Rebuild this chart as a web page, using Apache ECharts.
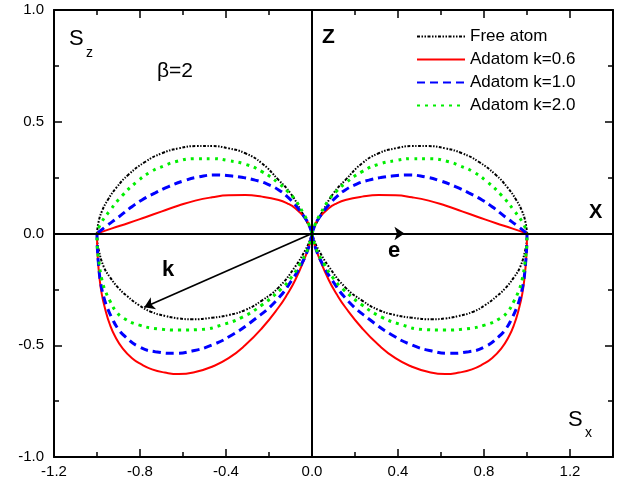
<!DOCTYPE html>
<html>
<head>
<meta charset="utf-8">
<script src="https://cdn.jsdelivr.net/npm/echarts@6/dist/echarts.min.js"></script>
<style>html,body{margin:0;padding:0;background:#fff}#c{width:620px;height:488px}</style>
</head>
<body>
<div id="c"></div>
<script>
// ---------- data ----------
const legendNames = ['Free atom', 'Adatom k=0.6', 'Adatom k=1.0', 'Adatom k=2.0'];
const xTickStep = 0.4;
const yTickStep = 0.5;

// Free atom
const freeUpperR = [[0,0],[0.02,0.045],[0.05,0.1],[0.1,0.18],[0.155,0.239],[0.233,0.314],[0.31,0.359],[0.388,0.381],[0.465,0.391],[0.535,0.391],[0.62,0.381],[0.698,0.359],[0.775,0.321],[0.853,0.264],[0.91,0.205],[0.95,0.15],[0.977,0.1],[0.993,0.05],[1,0]];
const freeLowerR = [[0,0],[0.012,-0.035],[0.031,-0.074],[0.078,-0.148],[0.155,-0.241],[0.233,-0.3],[0.31,-0.342],[0.388,-0.365],[0.465,-0.377],[0.558,-0.384],[0.62,-0.38],[0.682,-0.369],[0.75,-0.35],[0.806,-0.32],[0.86,-0.28],[0.899,-0.245],[0.94,-0.195],[0.969,-0.148],[0.992,-0.074],[0.999,-0.03],[1,0]];
const freeUpperL = [[0,0],[-0.02,0.045],[-0.05,0.1],[-0.1,0.18],[-0.155,0.239],[-0.233,0.314],[-0.31,0.359],[-0.388,0.381],[-0.465,0.391],[-0.535,0.391],[-0.62,0.381],[-0.698,0.359],[-0.775,0.321],[-0.853,0.264],[-0.91,0.205],[-0.95,0.15],[-0.977,0.1],[-0.993,0.05],[-1,0]];
const freeLowerL = [[0,0],[-0.012,-0.035],[-0.031,-0.074],[-0.078,-0.148],[-0.155,-0.241],[-0.233,-0.3],[-0.31,-0.342],[-0.388,-0.365],[-0.465,-0.377],[-0.558,-0.384],[-0.62,-0.38],[-0.682,-0.369],[-0.75,-0.35],[-0.806,-0.32],[-0.86,-0.28],[-0.899,-0.245],[-0.94,-0.195],[-0.969,-0.148],[-0.992,-0.074],[-0.999,-0.03],[-1,0]];

// Adatom k=0.6
const k06UpperR = [[0,0],[0.012,0.035],[0.031,0.068],[0.078,0.113],[0.115,0.135],[0.155,0.15],[0.233,0.165],[0.31,0.172],[0.388,0.171],[0.465,0.162],[0.543,0.147],[0.62,0.125],[0.698,0.099],[0.775,0.073],[0.853,0.047],[0.93,0.023],[1,0]];
const k06LowerR = [[0,0],[0.01,-0.045],[0.031,-0.104],[0.078,-0.208],[0.115,-0.272],[0.155,-0.33],[0.233,-0.424],[0.31,-0.499],[0.388,-0.558],[0.465,-0.596],[0.543,-0.62],[0.62,-0.629],[0.685,-0.622],[0.744,-0.608],[0.795,-0.585],[0.837,-0.558],[0.88,-0.515],[0.915,-0.462],[0.941,-0.405],[0.961,-0.342],[0.978,-0.27],[0.989,-0.193],[0.997,-0.1],[1,0]];
const k06UpperL = [[0,0],[-0.012,0.035],[-0.031,0.068],[-0.078,0.113],[-0.115,0.135],[-0.155,0.15],[-0.233,0.165],[-0.31,0.172],[-0.388,0.171],[-0.465,0.162],[-0.543,0.147],[-0.62,0.125],[-0.698,0.099],[-0.775,0.073],[-0.853,0.047],[-0.93,0.023],[-1,0]];
const k06LowerL = [[0,0],[-0.01,-0.045],[-0.031,-0.104],[-0.078,-0.208],[-0.115,-0.272],[-0.155,-0.33],[-0.233,-0.424],[-0.31,-0.499],[-0.388,-0.558],[-0.465,-0.596],[-0.543,-0.62],[-0.62,-0.629],[-0.685,-0.622],[-0.744,-0.608],[-0.795,-0.585],[-0.837,-0.558],[-0.88,-0.515],[-0.915,-0.462],[-0.941,-0.405],[-0.961,-0.342],[-0.978,-0.27],[-0.989,-0.193],[-0.997,-0.1],[-1,0]];

// Adatom k=1.0
const k10UpperR = [[0,0],[0.015,0.04],[0.04,0.08],[0.078,0.128],[0.115,0.165],[0.155,0.195],[0.21,0.222],[0.264,0.239],[0.318,0.25],[0.372,0.257],[0.45,0.262],[0.527,0.253],[0.589,0.238],[0.667,0.21],[0.729,0.182],[0.791,0.15],[0.845,0.115],[0.899,0.074],[0.961,0.03],[1,0]];
const k10LowerR = [[0,0],[0.015,-0.06],[0.047,-0.133],[0.093,-0.208],[0.171,-0.305],[0.271,-0.387],[0.372,-0.454],[0.465,-0.499],[0.558,-0.526],[0.636,-0.536],[0.729,-0.529],[0.806,-0.506],[0.868,-0.462],[0.903,-0.425],[0.93,-0.379],[0.953,-0.33],[0.969,-0.283],[0.984,-0.215],[0.992,-0.148],[0.998,-0.07],[1,0]];
const k10UpperL = [[0,0],[-0.015,0.04],[-0.04,0.08],[-0.078,0.128],[-0.115,0.165],[-0.155,0.195],[-0.21,0.222],[-0.264,0.239],[-0.318,0.25],[-0.372,0.257],[-0.45,0.262],[-0.527,0.253],[-0.589,0.238],[-0.667,0.21],[-0.729,0.182],[-0.791,0.15],[-0.845,0.115],[-0.899,0.074],[-0.961,0.03],[-1,0]];
const k10LowerL = [[0,0],[-0.015,-0.06],[-0.047,-0.133],[-0.093,-0.208],[-0.171,-0.305],[-0.271,-0.387],[-0.372,-0.454],[-0.465,-0.499],[-0.558,-0.526],[-0.636,-0.536],[-0.729,-0.529],[-0.806,-0.506],[-0.868,-0.462],[-0.903,-0.425],[-0.93,-0.379],[-0.953,-0.33],[-0.969,-0.283],[-0.984,-0.215],[-0.992,-0.148],[-0.998,-0.07],[-1,0]];

// Adatom k=2.0
const k20UpperR = [[0,0],[0.015,0.042],[0.04,0.09],[0.078,0.15],[0.115,0.19],[0.155,0.225],[0.233,0.277],[0.31,0.31],[0.388,0.326],[0.465,0.335],[0.543,0.335],[0.636,0.321],[0.69,0.302],[0.744,0.279],[0.814,0.232],[0.884,0.168],[0.938,0.105],[0.984,0.042],[1,0]];
const k20LowerR = [[0,0],[0.018,-0.065],[0.054,-0.133],[0.095,-0.195],[0.14,-0.245],[0.233,-0.32],[0.326,-0.375],[0.419,-0.409],[0.512,-0.429],[0.62,-0.432],[0.713,-0.427],[0.806,-0.409],[0.876,-0.379],[0.912,-0.348],[0.938,-0.305],[0.96,-0.26],[0.977,-0.208],[0.992,-0.119],[0.999,-0.05],[1,0]];
const k20UpperL = [[0,0],[-0.015,0.042],[-0.04,0.09],[-0.078,0.15],[-0.115,0.19],[-0.155,0.225],[-0.233,0.277],[-0.31,0.31],[-0.388,0.326],[-0.465,0.335],[-0.543,0.335],[-0.636,0.321],[-0.69,0.302],[-0.744,0.279],[-0.814,0.232],[-0.884,0.168],[-0.938,0.105],[-0.984,0.042],[-1,0]];
const k20LowerL = [[0,0],[-0.018,-0.065],[-0.054,-0.133],[-0.095,-0.195],[-0.14,-0.245],[-0.233,-0.32],[-0.326,-0.375],[-0.419,-0.409],[-0.512,-0.429],[-0.62,-0.432],[-0.713,-0.427],[-0.806,-0.409],[-0.876,-0.379],[-0.912,-0.348],[-0.938,-0.305],[-0.96,-0.26],[-0.977,-0.208],[-0.992,-0.119],[-0.999,-0.05],[-1,0]];

// arrows (vector tips, in data units)
const eArrowTip = [0.43, 0];
const kArrowTip = [-0.78, -0.33];

// ---------- chart ----------
const FONT = 'Liberation Sans, Arial, sans-serif';
const styles = [
  {color: '#000000', width: 2, type: [3, 1.5, 1.5, 1.5, 1.5, 1.5]},
  {color: '#ff0000', width: 2, type: 'solid'},
  {color: '#0000ff', width: 3, type: [8, 5]},
  {color: '#00ee00', width: 3, type: [3, 5]}
];
const curveSets = [
  [freeUpperR, freeLowerR, freeUpperL, freeLowerL],
  [k06UpperR, k06LowerR, k06UpperL, k06LowerL],
  [k10UpperR, k10LowerR, k10UpperL, k10LowerL],
  [k20UpperR, k20LowerR, k20UpperL, k20LowerL]
];

const series = [];
curveSets.forEach((set, i) => {
  set.forEach(arr => {
    series.push({
      name: legendNames[i],
      type: 'line',
      data: arr,
      showSymbol: false,
      symbol: 'none',
      smooth: 0.5,
      silent: true,
      z: 3,
      lineStyle: {color: styles[i].color, width: styles[i].width, type: styles[i].type, cap: 'butt'},
      itemStyle: {color: styles[i].color}
    });
  });
});

// zero lines
series.push({
  type: 'line', data: [], silent: true, z: 2,
  markLine: {
    silent: true, symbol: 'none', animation: false,
    label: {show: false},
    lineStyle: {color: '#000', width: 2, type: 'solid'},
    data: [{yAxis: 0}, {xAxis: 0}]
  }
});
// arrows
series.push({
  type: 'line', data: [], silent: true, z: 4,
  markLine: {
    silent: true, symbol: ['none', 'arrow'], symbolSize: 10, animation: false,
    label: {show: false},
    lineStyle: {color: '#000', width: 1.8, type: 'solid'},
    data: [
      [{coord: [0, 0]}, {coord: eArrowTip}],
      [{coord: [0, 0]}, {coord: kArrowTip}]
    ]
  }
});

const fmt = v => (Math.abs(v - 1.4) < 1e-6 ? '' : v.toFixed(1));
const common = {
  type: 'value',
  axisLine: {show: true, onZero: false, lineStyle: {color: '#000', width: 2}},
  axisTick: {show: true, inside: true, length: 8, lineStyle: {color: '#000', width: 1.5}},
  minorTick: {show: true, splitNumber: 2, length: 5, lineStyle: {color: '#000', width: 1.5}},
  splitLine: {show: false},
  minorSplitLine: {show: false}
};

const option = {
  animation: false,
  backgroundColor: '#fff',
  grid: {left: 54, right: 7, top: 10, bottom: 31, containLabel: false},
  legend: {
    data: legendNames,
    orient: 'vertical',
    left: 411, top: 23,
    itemWidth: 48, itemHeight: 14, itemGap: 6,
    itemStyle: {opacity: 0},
    textStyle: {fontSize: 17, color: '#000', fontFamily: FONT},
    selectedMode: false
  },
  xAxis: [
    Object.assign({}, common, {
      position: 'bottom', min: -1.2, max: 1.4, interval: xTickStep,
      axisLabel: {color: '#000', fontSize: 15, fontFamily: FONT, margin: 7, formatter: fmt}
    }),
    Object.assign({}, common, {
      position: 'top', min: -1.2, max: 1.4, interval: xTickStep,
      axisLabel: {show: false}
    })
  ],
  yAxis: [
    Object.assign({}, common, {
      position: 'left', min: -1, max: 1, interval: yTickStep,
      axisLabel: {color: '#000', fontSize: 15, fontFamily: FONT, margin: 10, formatter: v => v.toFixed(1)}
    }),
    Object.assign({}, common, {
      position: 'right', min: -1, max: 1, interval: yTickStep,
      axisLabel: {show: false}
    })
  ],
  graphic: [
    {type: 'text', left: 69, top: 28, style: {text: 'S', fontSize: 22, fontFamily: FONT, fill: '#000'}},
    {type: 'text', left: 86, top: 46, style: {text: 'z', fontSize: 14, fontFamily: FONT, fill: '#000'}},
    {type: 'text', left: 157, top: 61, style: {text: 'β=2', fontSize: 21, fontFamily: FONT, fill: '#000'}},
    {type: 'text', left: 322, top: 27, style: {text: 'Z', fontSize: 21, fontWeight: 'bold', fontFamily: FONT, fill: '#000'}},
    {type: 'text', left: 589, top: 202, style: {text: 'X', fontSize: 20, fontWeight: 'bold', fontFamily: FONT, fill: '#000'}},
    {type: 'text', left: 162, top: 259, style: {text: 'k', fontSize: 22, fontWeight: 'bold', fontFamily: FONT, fill: '#000'}},
    {type: 'text', left: 388, top: 240, style: {text: 'e', fontSize: 22, fontWeight: 'bold', fontFamily: FONT, fill: '#000'}},
    {type: 'text', left: 568, top: 409, style: {text: 'S', fontSize: 22, fontFamily: FONT, fill: '#000'}},
    {type: 'text', left: 585, top: 426, style: {text: 'x', fontSize: 14, fontFamily: FONT, fill: '#000'}}
  ],
  series: series
};

const chart = echarts.init(document.getElementById('c'), null, {renderer: 'canvas'});
chart.setOption(option);
</script>
</body>
</html>
